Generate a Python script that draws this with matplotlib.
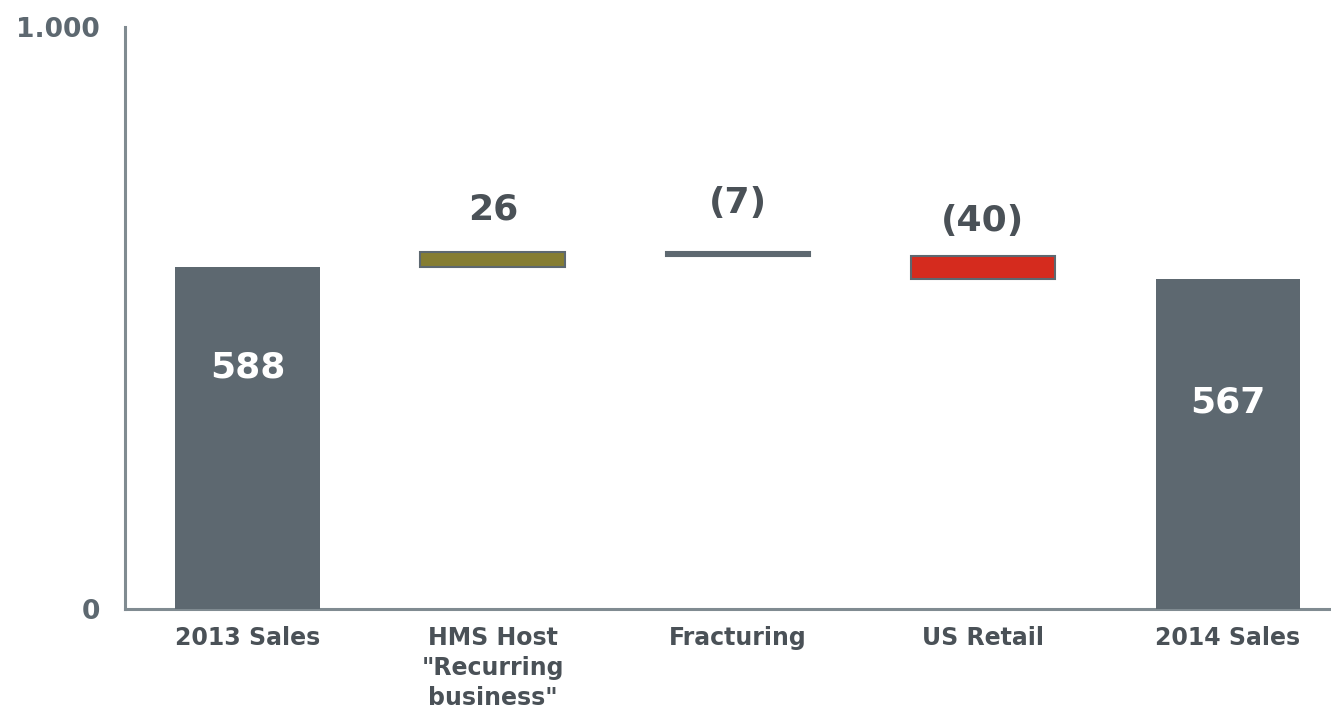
import matplotlib
matplotlib.use("Agg")
import matplotlib.pyplot as plt

# waterfall data
categories = ['2013 Sales', 'HMS Host\n"Recurring\nbusiness"', 'Fracturing', 'US Retail', '2014 Sales']
start_total = 588
deltas = [26, -7, -40]
end_total = 567
delta_labels = ['26', '(7)', '(40)']

GRAY = '#5d6870'
TEXT = '#4a5157'
AXIS = '#808b91'
OLIVE = '#857d32'
RED = '#d52b1e'

fig = plt.figure(figsize=(13.31, 7.09), dpi=100)
ax = fig.add_axes([0.094, 0.141, 0.906, 0.821])

w = 0.59
# totals (labels sit above the middle of the bar, like the original)
ax.bar(0, start_total, width=w, color=GRAY, zorder=3)
ax.bar(4, end_total, width=w, color=GRAY, zorder=3)
ax.text(0, start_total * 0.706, str(start_total), ha='center', va='center',
        color='white', fontsize=26, fontweight='bold', zorder=4)
ax.text(4, end_total * 0.626, str(end_total), ha='center', va='center',
        color='white', fontsize=26, fontweight='bold', zorder=4)

# floating deltas
level = start_total
colors = [OLIVE, GRAY, RED]
label_offsets = [30, 35, 25]
for i, d in enumerate(deltas):
    lo = min(level, level + d)
    ax.bar(i + 1, abs(d), bottom=lo, width=w, color=colors[i],
           edgecolor=GRAY, linewidth=1.5, zorder=3)
    top = max(level, level + d)
    ax.annotate(delta_labels[i], (i + 1, top), xytext=(0, label_offsets[i]),
                textcoords='offset points', ha='center', va='center',
                color=TEXT, fontsize=26, fontweight='bold')
    level += d

ax.set_xlim(-0.5, 4.42)
ax.set_ylim(0, 1000)
ax.set_yticks([0, 1000])
ax.set_yticklabels(['0', '1.000'])
ax.set_xticks(range(len(categories)))
ax.set_xticklabels(categories, fontsize=17, fontweight='bold', color=TEXT,
                   linespacing=1.32)
for lab in ax.get_yticklabels():
    lab.set_fontsize(19)
    lab.set_fontweight('bold')
    lab.set_color(GRAY)
ax.tick_params(axis='both', length=0)
ax.tick_params(axis='x', pad=12)
ax.tick_params(axis='y', pad=18)

for s in ['top', 'right']:
    ax.spines[s].set_visible(False)
for s in ['left', 'bottom']:
    ax.spines[s].set_color(AXIS)
    ax.spines[s].set_linewidth(2.2)

fig.savefig('out.png', dpi=100)
